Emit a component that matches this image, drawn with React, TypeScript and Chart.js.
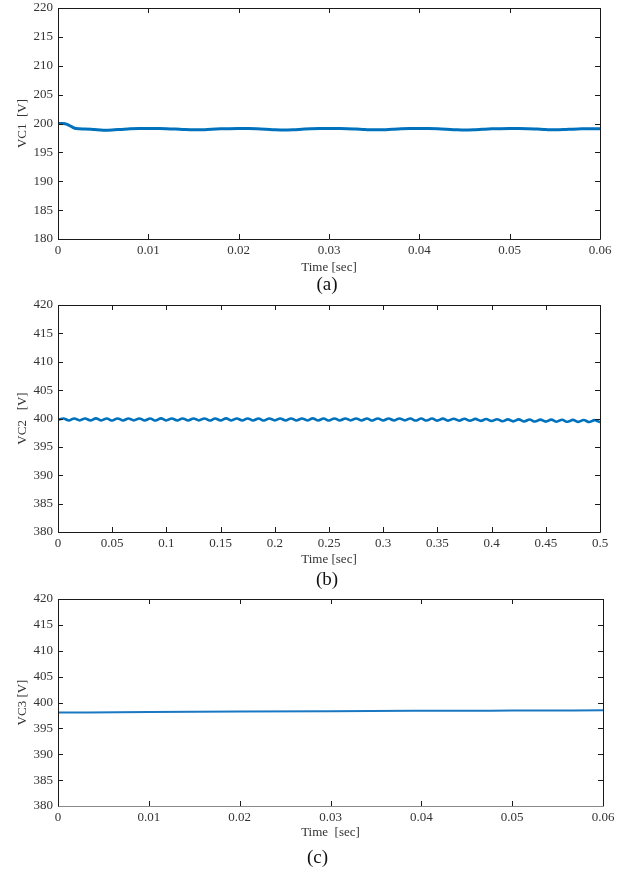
import React, { useEffect, useRef } from 'react';
import { Chart, registerables } from 'chart.js';

Chart.register(...registerables);

const FONT = '"Liberation Serif", "Times New Roman", Times, serif';
const TEXT = '#333333';
const AXIS = '#1a1a1a';
const BLUE = '#0072BD';

// ---------- (a) VC1 ----------
const vc1Time = [
  0, 0.0005, 0.001, 0.0015, 0.002, 0.003, 0.004, 0.005, 0.006, 0.007, 0.008, 0.009,
  0.01, 0.011, 0.012, 0.013, 0.014, 0.015, 0.016, 0.017, 0.018, 0.019,
  0.02, 0.021, 0.022, 0.023, 0.024, 0.025, 0.026, 0.027, 0.028, 0.029,
  0.03, 0.031, 0.032, 0.033, 0.034, 0.035, 0.036, 0.037, 0.038, 0.039,
  0.04, 0.041, 0.042, 0.043, 0.044, 0.045, 0.046, 0.047, 0.048, 0.049,
  0.05, 0.051, 0.052, 0.053, 0.054, 0.055, 0.056, 0.057, 0.058, 0.059, 0.06,
];
const vc1Values = [
  200.0, 199.98, 199.85, 199.45, 199.12, 199.05, 198.95, 198.85, 198.88, 198.98, 199.08, 199.12,
  199.13, 199.12, 199.1, 199.04, 198.95, 198.9, 198.93, 199.02, 199.08, 199.11,
  199.12, 199.12, 199.09, 199.02, 198.93, 198.88, 198.92, 199.0, 199.08, 199.12,
  199.13, 199.12, 199.1, 199.03, 198.95, 198.9, 198.93, 199.01, 199.08, 199.12,
  199.13, 199.12, 199.09, 199.02, 198.93, 198.87, 198.91, 199.0, 199.08, 199.11,
  199.12, 199.12, 199.1, 199.03, 198.95, 198.9, 198.94, 199.02, 199.08, 199.1, 199.1,
];
const vc1XTicks = [0, 0.01, 0.02, 0.03, 0.04, 0.05, 0.06];
const vc1XLabels = ['0', '0.01', '0.02', '0.03', '0.04', '0.05', '0.06'];
const vc1YTicks = [180, 185, 190, 195, 200, 205, 210, 215, 220];
const vc1YLabels = ['180', '185', '190', '195', '200', '205', '210', '215', '220'];

// ---------- (b) VC2 ----------
const vc2Step = 0.005;
const vc2Values = [
  399.75,
  400.0, 399.65, 400.01, 399.66, 400.0, 399.65, 400.02, 399.66, 400.0, 399.64,
  400.01, 399.65, 400.0, 399.66, 400.01, 399.65, 400.0, 399.64, 400.02, 399.66,
  400.0, 399.65, 400.01, 399.65, 400.0, 399.66, 400.01, 399.64, 400.0, 399.65,
  400.02, 399.66, 400.0, 399.65, 400.01, 399.65, 400.0, 399.64, 400.01, 399.66,
  400.0, 399.65, 400.01, 399.65, 400.0, 399.66, 400.02, 399.65, 400.0, 399.64,
  400.01, 399.65, 400.0, 399.66, 400.01, 399.65, 400.0, 399.64, 400.01, 399.65,
  400.0, 399.65, 400.01, 399.66, 400.0, 399.64, 400.0, 399.64, 399.99, 399.63,
  399.98, 399.62, 399.96, 399.61, 399.95, 399.6, 399.93, 399.58, 399.9, 399.55,
  399.88, 399.52, 399.85, 399.5, 399.84, 399.48, 399.82, 399.46, 399.8, 399.45,
  399.8, 399.44, 399.78, 399.42, 399.76, 399.4, 399.74, 399.38, 399.72, 399.32,
];
const vc2XTicks = [0, 0.05, 0.1, 0.15, 0.2, 0.25, 0.3, 0.35, 0.4, 0.45, 0.5];
const vc2XLabels = ['0', '0.05', '0.1', '0.15', '0.2', '0.25', '0.3', '0.35', '0.4', '0.45', '0.5'];
const vc2YTicks = [380, 385, 390, 395, 400, 405, 410, 415, 420];
const vc2YLabels = ['380', '385', '390', '395', '400', '405', '410', '415', '420'];

// ---------- (c) VC3 ----------
const vc3Time = [0, 0.01, 0.02, 0.03, 0.04, 0.05, 0.06];
const vc3Values = [398.05, 398.17, 398.26, 398.33, 398.39, 398.44, 398.48];
const vc3XTicks = [0, 0.01, 0.02, 0.03, 0.04, 0.05, 0.06];
const vc3XLabels = ['0', '0.01', '0.02', '0.03', '0.04', '0.05', '0.06'];
const vc3YTicks = [380, 385, 390, 395, 400, 405, 410, 415, 420];
const vc3YLabels = ['380', '385', '390', '395', '400', '405', '410', '415', '420'];

type Panel = {
  top: number;
  height: number;
  area: { left: number; top: number; right: number; bottom: number };
  times: number[];
  values: number[];
  xTicks: number[];
  xLabels: string[];
  yTicks: number[];
  yLabels: string[];
  xTitle: string;
  yTitle: string;
  caption: string;
  captionDx: number;
  captionY: number;
  xTitlePadBottom: number;
  lineWidth: number;
  color: string;
  bottomAxisColor: string;
};

const W = 633;

const panels: Panel[] = [
  {
    top: 0,
    height: 296,
    area: { left: 58, top: 8, right: 600, bottom: 239 },
    times: vc1Time,
    values: vc1Values,
    xTicks: vc1XTicks,
    xLabels: vc1XLabels,
    yTicks: vc1YTicks,
    yLabels: vc1YLabels,
    xTitle: 'Time [sec]',
    yTitle: 'VC1  [V]',
    caption: '(a)',
    captionDx: -2,
    captionY: 285,
    xTitlePadBottom: 21,
    lineWidth: 3,
    color: BLUE,
    bottomAxisColor: AXIS,
  },
  {
    top: 296,
    height: 296,
    area: { left: 58, top: 9, right: 600, bottom: 236 },
    times: vc2Values.map((_, i) => i * vc2Step),
    values: vc2Values,
    xTicks: vc2XTicks,
    xLabels: vc2XLabels,
    yTicks: vc2YTicks,
    yLabels: vc2YLabels,
    xTitle: 'Time [sec]',
    yTitle: 'VC2   [V]',
    caption: '(b)',
    captionDx: -2,
    captionY: 284,
    xTitlePadBottom: 25,
    lineWidth: 2.6,
    color: BLUE,
    bottomAxisColor: AXIS,
  },
  {
    top: 592,
    height: 278,
    area: { left: 58, top: 7, right: 603, bottom: 214 },
    times: vc3Time,
    values: vc3Values,
    xTicks: vc3XTicks,
    xLabels: vc3XLabels,
    yTicks: vc3YTicks,
    yLabels: vc3YLabels,
    xTitle: 'Time  [sec]',
    yTitle: 'VC3 [V]',
    caption: '(c)',
    captionDx: -13,
    captionY: 266,
    xTitlePadBottom: 30,
    lineWidth: 2,
    color: '#1a78c2',
    bottomAxisColor: '#8a8a8a',
  },
];

const framePlugin = {
  id: 'frame',
  afterDatasetsDraw(chart: any, _args: any, opts: any) {
    const { ctx, chartArea } = chart;
    const { left, right, top, bottom } = chartArea;
    const xs = chart.scales.x;
    const ys = chart.scales.y;
    const L = 5;
    ctx.save();
    ctx.lineWidth = 1;
    ctx.strokeStyle = AXIS;
    ctx.beginPath();
    xs.ticks.forEach((t: any) => {
      const px = Math.round(xs.getPixelForValue(t.value)) + 0.5;
      ctx.moveTo(px, bottom);
      ctx.lineTo(px, bottom - L);
      ctx.moveTo(px, top);
      ctx.lineTo(px, top + L);
    });
    ys.ticks.forEach((t: any) => {
      const py = Math.round(ys.getPixelForValue(t.value)) + 0.5;
      ctx.moveTo(left, py);
      ctx.lineTo(left + L, py);
      ctx.moveTo(right, py);
      ctx.lineTo(right - L, py);
    });
    ctx.stroke();
    const l = Math.round(left) + 0.5;
    const r = Math.round(right) + 0.5;
    const t = Math.round(top) + 0.5;
    const b = Math.round(bottom) + 0.5;
    ctx.beginPath();
    ctx.moveTo(l, b);
    ctx.lineTo(l, t);
    ctx.lineTo(r, t);
    ctx.lineTo(r, b);
    ctx.stroke();
    ctx.strokeStyle = opts.bottomColor || AXIS;
    ctx.beginPath();
    ctx.moveTo(l, b);
    ctx.lineTo(r, b);
    ctx.stroke();
    ctx.restore();
  },
};

const captionPlugin = {
  id: 'caption',
  afterDraw(chart: any, _args: any, opts: any) {
    if (!opts.text) return;
    const { ctx, chartArea } = chart;
    ctx.save();
    ctx.font = `${opts.size}px ${FONT}`;
    ctx.fillStyle = '#111111';
    ctx.textAlign = 'center';
    ctx.textBaseline = 'middle';
    ctx.fillText(opts.text, (chartArea.left + chartArea.right) / 2 + opts.dx, opts.y);
    ctx.restore();
  },
};

function PanelChart({ p }: { p: Panel }) {
  const ref = useRef<HTMLCanvasElement>(null);
  useEffect(() => {
    if (!ref.current) return;
    const tickFont = { family: FONT, size: 13 };
    const chart = new Chart(ref.current, {
      type: 'line',
      data: {
        datasets: [
          {
            data: p.times.map((t, i) => ({ x: t, y: p.values[i] })),
            borderColor: p.color,
            borderWidth: p.lineWidth,
            pointRadius: 0,
            cubicInterpolationMode: 'monotone',
            fill: false,
          },
        ],
      },
      options: {
        responsive: false,
        animation: false,
        devicePixelRatio: 1,
        layout: { padding: { left: 0, top: p.area.top, right: W - p.area.right, bottom: 0 } },
        plugins: {
          legend: { display: false },
          tooltip: { enabled: false },
          title: { display: false },
          frame: { bottomColor: p.bottomAxisColor },
          caption: { text: p.caption, size: 19, dx: p.captionDx, y: p.captionY },
        } as any,
        scales: {
          x: {
            type: 'linear',
            min: p.xTicks[0],
            max: p.xTicks[p.xTicks.length - 1],
            grid: { display: false, drawTicks: false },
            border: { display: false },
            ticks: {
              autoSkip: false,
              maxRotation: 0,
              padding: 4,
              color: TEXT,
              font: tickFont,
              callback: (_v: any, i: number) => p.xLabels[i],
            },
            afterBuildTicks: (s: any) => {
              s.ticks = p.xTicks.map((v) => ({ value: v }));
            },
            afterFit: (s: any) => {
              s.height = p.height - p.area.bottom;
              s.paddingLeft = 0;
              s.paddingRight = 0;
              s.paddingTop = 0;
              s.paddingBottom = 0;
            },
            title: {
              display: true,
              text: p.xTitle,
              color: TEXT,
              font: tickFont,
              padding: { top: 0, bottom: p.xTitlePadBottom },
            },
          },
          y: {
            type: 'linear',
            min: p.yTicks[0],
            max: p.yTicks[p.yTicks.length - 1],
            grid: { display: false, drawTicks: false },
            border: { display: false },
            ticks: {
              autoSkip: false,
              padding: 5,
              color: TEXT,
              font: tickFont,
              callback: (_v: any, i: number) => p.yLabels[i],
            },
            afterBuildTicks: (s: any) => {
              s.ticks = p.yTicks.map((v) => ({ value: v }));
            },
            afterFit: (s: any) => {
              s.width = p.area.left;
              s.paddingLeft = 0;
              s.paddingRight = 0;
              s.paddingTop = 0;
              s.paddingBottom = 0;
            },
            title: {
              display: true,
              text: p.yTitle,
              color: TEXT,
              font: tickFont,
              padding: { top: 15, bottom: 0 },
            },
          },
        },
      } as any,
      plugins: [framePlugin, captionPlugin],
    } as any);
    return () => chart.destroy();
  }, [p]);
  return (
    <canvas
      ref={ref}
      width={W}
      height={p.height}
      style={{ position: 'absolute', left: 0, top: p.top, width: W, height: p.height, display: 'block' }}
    />
  );
}

export default function App() {
  return (
    <div style={{ position: 'absolute', left: 0, top: 0, width: W, height: 870, background: '#ffffff' }}>
      {panels.map((p, i) => (
        <PanelChart key={i} p={p} />
      ))}
    </div>
  );
}
